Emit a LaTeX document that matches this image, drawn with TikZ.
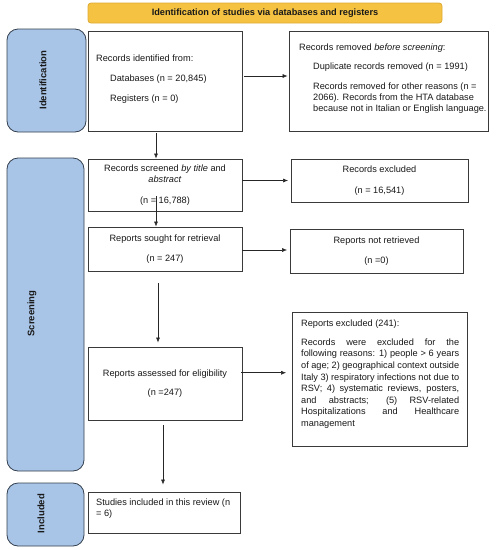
\documentclass[tikz,border=0pt]{standalone}
\usepackage{fontspec}
\setmainfont{Liberation Sans}
\usetikzlibrary{arrows.meta,calc}
\definecolor{bannerfill}{HTML}{F5C242}
\definecolor{bannerdraw}{HTML}{DDAA33}
\definecolor{phasefill}{HTML}{A8C4E6}
\definecolor{phasedraw}{HTML}{34404E}
\definecolor{boxdraw}{HTML}{3A3A3A}
\begin{document}
\begin{tikzpicture}[x=1pt,y=-1pt,
  every node/.style={font=\fontsize{9.2}{11}\selectfont, text=black!90},
  box/.style={draw=boxdraw, line width=0.8pt, fill=white, inner sep=0pt, align=center},
  txt/.style={inner sep=0pt, anchor=north west, align=left},
  phase/.style={draw=phasedraw, fill=phasefill, line width=0.8pt, rounded corners=11pt, inner sep=0pt},
  phasetxt/.style={rotate=90, font=\fontsize{9.5}{11}\selectfont\bfseries, inner sep=0pt},
  arr/.style={draw=black!85, line width=0.6pt, -{Latex[length=5pt,width=4pt]}}
]
\useasboundingbox (0,0) rectangle (500,550);

% banner
\node[draw=bannerdraw, fill=bannerfill, line width=0.8pt, rounded corners=3pt,
      minimum width=354pt, minimum height=20pt, inner sep=0pt,
      font=\fontsize{9.2}{11}\selectfont\bfseries] (title) at (265,13)
      {Identification of studies via databases and registers};

% phase labels
\node[phase, minimum width=79pt, minimum height=103pt] (idl) at (46.5,80.5) {};
\node[phasetxt] (idlt) at (43,80) {Identification};
\node[phase, minimum width=77pt, minimum height=313pt] (scl) at (45.5,314.5) {};
\node[phasetxt] (sclt) at (32,313.5) {Screening};
\node[phase, minimum width=77pt, minimum height=63pt] (inl) at (45.5,514.5) {};
\node[phasetxt] (inlt) at (41,513.5) {Included};

% identification boxes
\node[box, minimum width=154pt, minimum height=100pt] (ident) at (165,81) {};
\node[txt] (identtext) at (96,54.3) {Records identified from:\\[9.6pt]
  \hspace*{14pt}Databases (n = 20,845)\\[9pt]
  \hspace*{14pt}Registers (n = 0)};
\node[box, minimum width=199pt, minimum height=100pt] (removed) at (388.5,81) {};
\node[txt] (removedtext) at (299,43.3) {Records removed \textit{before screening}:\\[8pt]
  \hspace*{14pt}Duplicate records removed (n = 1991)\\[9pt]
  \hspace*{14pt}Records removed for other reasons (n =\\
  \hspace*{14pt}2066). Records from the HTA database\\
  \hspace*{14pt}because not in Italian or English language.};

% screening boxes
\node[box, minimum width=154pt, minimum height=52pt] (screened) at (165,185)
  {Records screened \textit{by title} and\\[0.8pt]\textit{abstract}\\[9.7pt](n = 16,788)};
\node[box, minimum width=177pt, minimum height=43pt] (excluded) at (379.5,180.5)
  {Records excluded\\[9.7pt](n = 16,541)};
\node[box, minimum width=154pt, minimum height=44pt] (sought) at (165,249)
  {Reports sought for retrieval\\[8.7pt](n = 247)};
\node[box, minimum width=173pt, minimum height=44pt] (notret) at (376.5,251)
  {Reports not retrieved\\[8.7pt](n =0)};
\node[box, minimum width=154pt, minimum height=73.5pt] (assessed) at (165,383.75)
  {Reports assessed for eligibility\\[7.7pt](n =247)};
\node[box, minimum width=175pt, minimum height=134pt] (repexcl) at (379.5,379) {};
\node[txt] (repexcltext) at (301,319.3) {Reports excluded (241):\\[8.2pt]
  \makebox[158pt][s]{Records were excluded for the}\\[0.6pt]
  \makebox[158pt][s]{following reasons: 1) people > 6 years}\\[0.6pt]
  \makebox[158pt][s]{of age; 2) geographical context outside}\\[0.6pt]
  \makebox[158pt][s]{Italy 3) respiratory infections not due to}\\[0.6pt]
  \makebox[158pt][s]{RSV; 4) systematic reviews, posters,}\\[0.6pt]
  \makebox[158pt][s]{and abstracts; (5) RSV-related}\\[0.6pt]
  \makebox[158pt][s]{Hospitalizations and Healthcare}\\[0.6pt]
  management};

% included
\node[box, minimum width=152pt, minimum height=41pt] (included) at (164,512.5) {};
\node[txt] (includedtext) at (96,498.3) {Studies included in this review (n\\= 6)};

% connectors
\draw[arr] ([xshift=2pt,yshift=5pt]ident.east) -- ([xshift=-1pt,yshift=5pt]removed.west);
\draw[arr] ([xshift=-9pt,yshift=-2pt]ident.south) -- ([xshift=-9pt]screened.north);
\draw[arr, shorten >=2.5pt] (screened.east |- excluded.west) -- (excluded.west);
\draw[arr] ([xshift=-9pt,yshift=15pt]screened.south) -- ([xshift=-9pt]sought.north);
\draw[arr, shorten >=2.5pt] ([yshift=-1pt]sought.east) -- ([yshift=-1pt]sought.east -| notret.west);
\draw[arr, shorten >=4pt] ([xshift=-7pt,yshift=-12pt]sought.south) -- ([xshift=-7pt]assessed.north);
\draw[arr, shorten >=5.5pt] ([xshift=-1pt,yshift=11pt]assessed.east) -- ([yshift=11pt]assessed.east -| repexcl.west);
\draw[arr, shorten >=7pt] ([xshift=-2pt,yshift=-4pt]assessed.south) -- ([xshift=-1pt]included.north);
\end{tikzpicture}
\end{document}
